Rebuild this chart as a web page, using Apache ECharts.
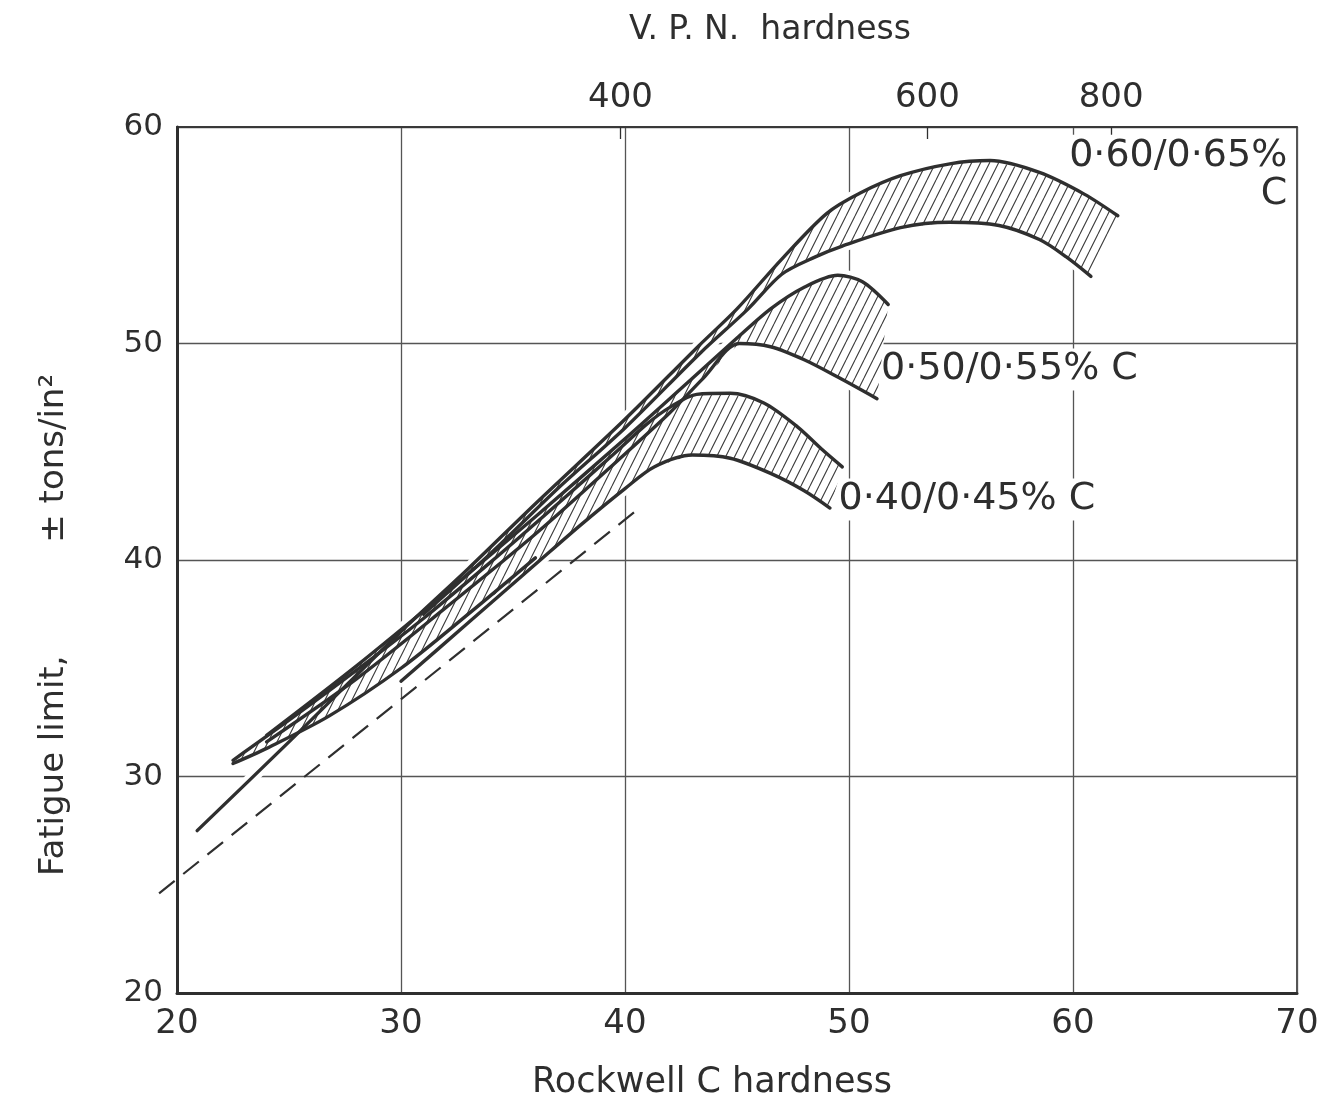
<!DOCTYPE html>
<html>
<head>
<meta charset="utf-8">
<title>Fatigue limit vs hardness</title>
<script src="https://cdn.jsdelivr.net/npm/echarts@6/dist/echarts.min.js"></script>
<style>
  html, body { margin: 0; padding: 0; background: #fff; }
  #chart { width: 1326px; height: 1100px; }
</style>
</head>
<body>
<div id="chart"></div>
<script>
/******************** data ********************/
// Rockwell C (x) and fatigue limit (y) axes
var rockwellTicks = [20, 30, 40, 50, 60, 70];
var fatigueTicks = [20, 30, 40, 50, 60];
// V.P.N. scale on top, placed at the matching Rockwell C value
var vpnLabels = ['400', '600', '800'];
var vpnAtRockwell = [39.8, 53.5, 61.7];

// curves, [Rockwell C, fatigue limit tons/in2]
var c60Upper = [[20.9,27.5],[25,31.6],[30,36.7],[33,39.6],[36,42.6],[40,46.5],[43.3,49.9],[45,51.6],[47,53.9],[49,56.0],[50.5,56.95],[52.3,57.75],[54.5,58.3],[56.3,58.45],[58.5,57.9],[60.5,56.9],[62,55.9]];
var c60Lower = [[31,37.5],[34,40.3],[37,43.3],[40,46.1],[43.4,49.6],[45.5,51.6],[47,53.2],[48.5,54.0],[49.7,54.5],[52.3,55.35],[54.5,55.6],[56.7,55.45],[58.5,54.8],[59.7,54.0],[60.8,53.1]];
var c50Upper = [[24,31.9],[28,35.1],[32,38.5],[36,42.0],[40,45.6],[42.8,48.2],[45,50.25],[46.5,51.6],[48,52.6],[49.5,53.15],[50.6,52.85],[51.75,51.8]];
var c50Lower = [[24,31.6],[28,34.5],[32,37.8],[36,41.2],[40,44.9],[42,46.8],[43.5,48.4],[45.1,50.0],[46.5,49.85],[48,49.25],[49.5,48.45],[51.25,47.45]];
var c40Upper = [[22.5,30.75],[25,32.6],[28,34.9],[31,37.3],[34,39.9],[37,42.6],[39.5,44.9],[41,46.3],[42,47.05],[43.2,47.65],[44.7,47.7],[46.2,47.25],[47.7,46.15],[48.8,45.1],[49.7,44.3]];
var c40Lower = [[30,34.4],[33,37.1],[36,39.8],[38,41.6],[40,43.3],[41.3,44.3],[43,44.85],[44.7,44.7],[46.5,44.0],[48,43.2],[49.15,42.4]];
var stripLower = [[22.5,30.6],[24,31.3],[26.8,32.8],[30,35.0],[33,37.5],[36,40.1]];
var dashedLine = [[19.2,24.6],[40.4,42.2]];

var bandNames = ['0·60/0·65%\nC', '0·50/0·55% C', '0·40/0·45% C'];
var bandLabelAt = [[69.7,57.8], [51.3,48.8], [49.4,42.8]];

/******************** helpers ********************/
var ink = '#2f2f2f';
var txt = '#2e2e2e';
var font = 'DejaVu Sans';

// hatch tile, white under the strokes so grid lines are hidden in the bands
function hatchTile() {
    var w = 9, h = 18;
    var cv = document.createElement('canvas');
    cv.width = w; cv.height = h;
    var ctx = cv.getContext('2d');
    ctx.fillStyle = '#fff';
    ctx.fillRect(0, 0, w, h);
    ctx.strokeStyle = '#3a3a3a';
    ctx.lineWidth = 1.1;
    ctx.beginPath();
    for (var k = -1; k <= 1; k++) {
        ctx.moveTo(k * w, h);
        ctx.lineTo((k + 1) * w, 0);
    }
    ctx.stroke();
    return cv;
}
var hatch = { image: hatchTile(), repeat: 'repeat' };

function fromX(arr, x0) { return arr.filter(function (p) { return p[0] >= x0; }); }
function belowX(arr, x0) { return arr.filter(function (p) { return p[0] < x0; }); }
function ring(upper, lower) { return upper.concat(lower.slice().reverse()); }

var bandPolys = [
    ring(fromX(c60Upper, 30), c60Lower),
    ring(c50Upper, c50Lower),
    ring(c40Upper, belowX(stripLower, 36).concat(fromX(c40Lower, 36)))
];

function bandSeries(poly) {
    return {
        type: 'custom',
        coordinateSystem: 'cartesian2d',
        silent: true,
        z: 2,
        encode: { x: 0, y: 1 },
        data: poly,
        renderItem: function (params, api) {
            if (params.dataIndex !== 0) return;
            var pts = poly.map(function (p) { return api.coord(p); });
            return {
                type: 'polygon',
                shape: { points: pts },
                style: { fill: hatch, stroke: null }
            };
        }
    };
}

function curve(data, color, width, z) {
    return {
        type: 'line',
        data: data,
        showSymbol: false,
        silent: true,
        smooth: 0.3,
        z: z,
        clip: false,
        lineStyle: { color: color, width: width, cap: 'round', join: 'round' }
    };
}

var curves = [c60Upper, c60Lower, c50Upper, c50Lower, c40Upper, c40Lower, stripLower];

var series = [];
// white halo under every curve (grid lines break round the curves)
curves.forEach(function (c) { series.push(curve(c, '#fff', 12, 1)); });
bandPolys.forEach(function (p) { series.push(bandSeries(p)); });
curves.forEach(function (c) { series.push(curve(c, ink, 3.4, 3)); });

// dashed line, runs a little past the left axis
series.push({
    type: 'custom',
    coordinateSystem: 'cartesian2d',
    silent: true,
    z: 3,
    encode: { x: 0, y: 1 },
    data: dashedLine,
    renderItem: function (params, api) {
        if (params.dataIndex !== 0) return;
        return {
            type: 'polyline',
            shape: { points: dashedLine.map(function (p) { return api.coord(p); }) },
            style: { stroke: ink, lineWidth: 2.2, lineDash: [20, 11], fill: null }
        };
    }
});

// band names
series.push({
    type: 'scatter',
    symbolSize: 0,
    silent: true,
    z: 1.5,
    itemStyle: { opacity: 1 },
    data: bandNames.map(function (n, i) {
        return {
            name: n,
            value: bandLabelAt[i],
            label: i === 0
                ? { position: 'left', align: 'right', distance: 0 }
                : { position: 'right', align: 'left', distance: 0 }
        };
    }),
    label: {
        show: true,
        formatter: '{b}',
        fontFamily: font,
        fontSize: 38,
        lineHeight: 38,
        color: txt,
        opacity: 1,
        backgroundColor: '#fff',
        padding: [2, 3]
    }
});

/******************** chart ********************/
var chart = echarts.init(document.getElementById('chart'));
var option = {
    animation: false,
    backgroundColor: '#fff',
    grid: {
        left: 177, right: 29, top: 127, bottom: 107,
        outerBoundsMode: 'none',
        show: true, borderColor: ink, borderWidth: 1.6
    },
    xAxis: [{
        type: 'value',
        position: 'bottom',
        min: rockwellTicks[0],
        max: rockwellTicks[rockwellTicks.length - 1],
        interval: 10,
        name: 'Rockwell C hardness',
        nameLocation: 'middle',
        nameGap: 72,
        nameTextStyle: { fontFamily: font, fontSize: 35, color: txt, padding: [0, 50, 0, 0] },
        axisLine: { lineStyle: { color: ink, width: 3 } },
        axisTick: { show: false },
        axisLabel: { fontFamily: font, fontSize: 34, color: txt, margin: 14 },
        splitLine: { lineStyle: { color: '#555', width: 1.3 } }
    }, {
        type: 'value',
        position: 'top',
        min: rockwellTicks[0],
        max: rockwellTicks[rockwellTicks.length - 1],
        name: 'V. P. N.  hardness',
        nameLocation: 'middle',
        nameGap: 80,
        nameTextStyle: { fontFamily: font, fontSize: 33, color: txt, padding: [0, 0, 0, 66] },
        axisLine: { show: true, lineStyle: { color: ink, width: 1.6 } },
        axisTick: { show: true, inside: true, length: 12, customValues: vpnAtRockwell, lineStyle: { color: ink, width: 1.3 } },
        axisLabel: {
            fontFamily: font, fontSize: 34, color: txt, margin: 12,
            customValues: vpnAtRockwell,
            formatter: function (v) {
                var i = vpnAtRockwell.indexOf(v);
                return i >= 0 ? vpnLabels[i] : '';
            }
        },
        splitLine: { show: false }
    }],
    yAxis: {
        type: 'value',
        min: fatigueTicks[0],
        max: fatigueTicks[fatigueTicks.length - 1],
        interval: 10,
        name: 'Fatigue limit,\u2003\u2003\u2003 ± tons/in²',
        nameLocation: 'middle',
        nameGap: 106,
        nameTextStyle: { fontFamily: font, fontSize: 34, color: txt, padding: [0, 130, 0, 0] },
        axisLine: { show: true, lineStyle: { color: ink, width: 3 } },
        axisTick: { show: false },
        axisLabel: { fontFamily: font, fontSize: 31, color: txt, margin: 14 },
        splitLine: { lineStyle: { color: '#555', width: 1.3 } }
    },
    series: series
};
chart.setOption(option);
window.addEventListener('resize', function () { chart.resize(); });
</script>
</body>
</html>
